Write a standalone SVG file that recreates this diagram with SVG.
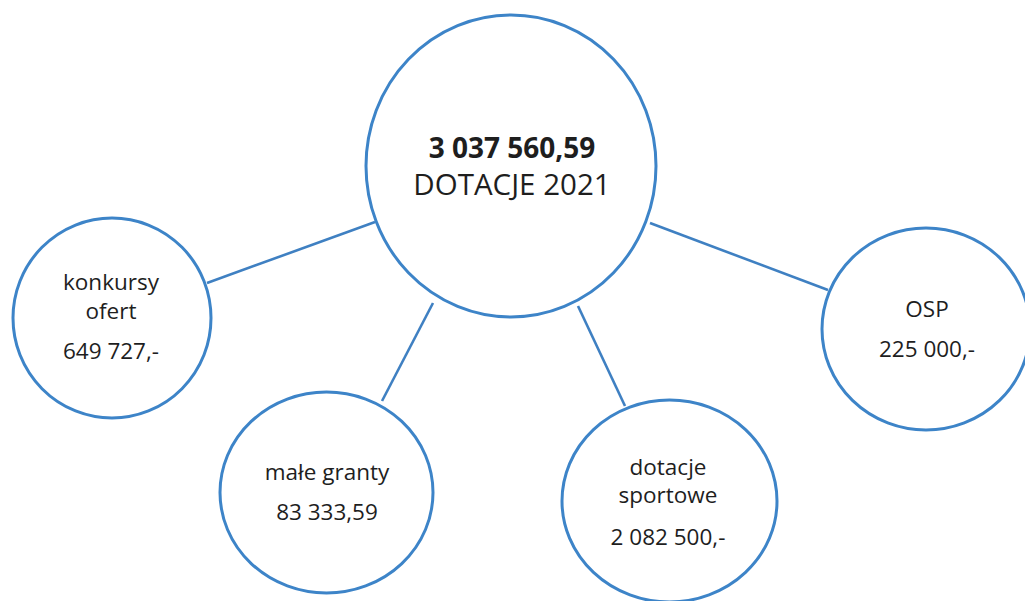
<svg xmlns="http://www.w3.org/2000/svg" width="1025" height="601" viewBox="0 0 1025 601">
<style>
.node{fill:#fff;stroke:#3d84c8;stroke-width:3}
.conn line{stroke:#3f80c2;stroke-width:2.6}
text{font-family:"Open Sans","Noto Sans","Liberation Sans",sans-serif;fill:#1e1e1e;text-anchor:middle}
.s{font-size:22.5px}
.b{font-size:28px}
.r{font-size:29.5px}
</style>
<rect width="1025" height="601" fill="#fff"/>
<g id="connectors" class="conn">
<line x1="207" y1="283" x2="375" y2="222"/>
<line x1="433" y1="303" x2="382" y2="401"/>
<line x1="578" y1="306" x2="625" y2="406"/>
<line x1="650" y1="223" x2="828" y2="290"/>
</g>
<g id="center">
<ellipse class="node" cx="511" cy="166" rx="145" ry="151"/>
<text class="b" x="512" y="158" font-weight="bold">3 037 560,59</text>
<text class="r" x="512" y="195">DOTACJE 2021</text>
</g>
<g id="konkursy">
<ellipse class="node" cx="112" cy="318" rx="99" ry="100"/>
<text class="s" x="111" y="290">konkursy</text>
<text class="s" x="111" y="319">ofert</text>
<text class="s" x="111" y="359">649 727,-</text>
</g>
<g id="male-granty">
<ellipse class="node" cx="326.5" cy="492.5" rx="106.5" ry="100.5"/>
<text class="s" x="327" y="480">małe granty</text>
<text class="s" x="327" y="520">83 333,59</text>
</g>
<g id="dotacje-sportowe">
<ellipse class="node" cx="669.5" cy="501" rx="107.5" ry="101"/>
<text class="s" x="668" y="475">dotacje</text>
<text class="s" x="668" y="503">sportowe</text>
<text class="s" x="668" y="545">2 082 500,-</text>
</g>
<g id="osp">
<ellipse class="node" cx="926" cy="329" rx="104" ry="101"/>
<text class="s" x="927" y="317">OSP</text>
<text class="s" x="927" y="357">225 000,-</text>
</g>
</svg>
